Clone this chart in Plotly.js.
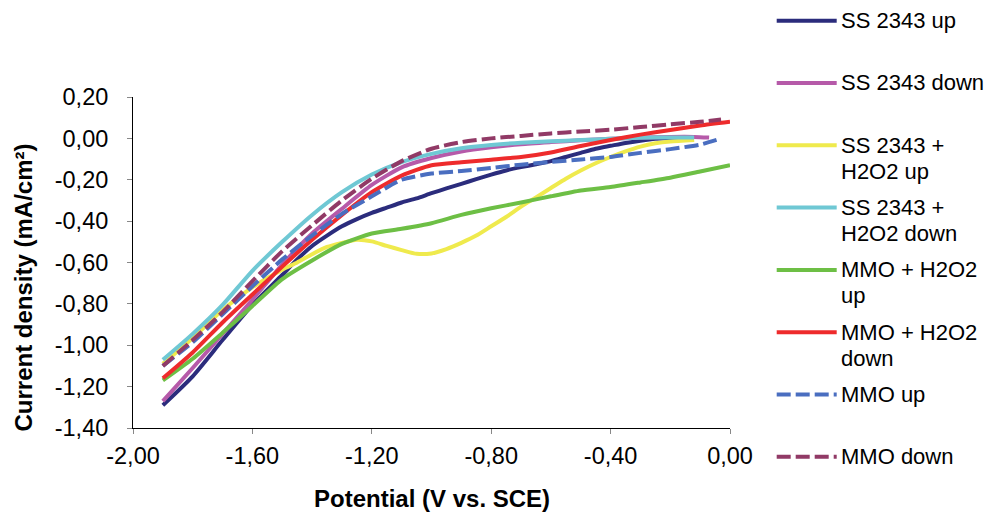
<!DOCTYPE html>
<html>
<head>
<meta charset="utf-8">
<script src="https://cdn.plot.ly/plotly-3.0.1.min.js"></script>
<style>html,body{margin:0;padding:0;background:#fff;}#chart{width:989px;height:512px;}</style>
</head>
<body>
<div id="chart"></div>
<script>
// ---- data ----
const seriesNames = ["SS 2343 up", "SS 2343 down", "SS 2343 +<br>H2O2 up", "SS 2343 +<br>H2O2 down",
                     "MMO + H2O2<br>up", "MMO + H2O2<br>down", "MMO up", "MMO down"];

const ssUpX = [-1.90,-1.80,-1.70,-1.60,-1.50,-1.45,-1.40,-1.35,-1.30,-1.25,-1.20,-1.15,-1.10,-1.05,-1.00,-0.95,-0.90,-0.85,-0.80,-0.75,-0.70,-0.65,-0.60,-0.55,-0.50,-0.45,-0.40,-0.35,-0.30,-0.25,-0.20,-0.14];
const ssUpY = [-1.29,-1.15,-0.975,-0.805,-0.66,-0.585,-0.52,-0.47,-0.425,-0.39,-0.36,-0.335,-0.31,-0.29,-0.265,-0.242,-0.22,-0.197,-0.175,-0.155,-0.139,-0.125,-0.11,-0.09,-0.07,-0.05,-0.036,-0.022,-0.011,-0.002,0.002,0.004];

const ssDownX = [-1.90,-1.80,-1.70,-1.60,-1.50,-1.40,-1.30,-1.20,-1.10,-1.00,-0.90,-0.80,-0.70,-0.60,-0.50,-0.40,-0.30,-0.20,-0.12,-0.07];
const ssDownY = [-1.27,-1.11,-0.945,-0.78,-0.61,-0.46,-0.34,-0.225,-0.14,-0.095,-0.063,-0.043,-0.028,-0.018,-0.009,-0.002,0.004,0.007,0.007,0.004];

const ssH2o2UpX = [-1.90,-1.80,-1.70,-1.60,-1.50,-1.45,-1.40,-1.35,-1.30,-1.25,-1.20,-1.15,-1.10,-1.05,-1.00,-0.95,-0.90,-0.85,-0.80,-0.75,-0.70,-0.65,-0.60,-0.55,-0.50,-0.45,-0.40,-0.35,-0.30,-0.25,-0.20,-0.12];
const ssH2o2UpY = [-1.09,-0.965,-0.83,-0.72,-0.635,-0.60,-0.56,-0.525,-0.505,-0.49,-0.498,-0.52,-0.54,-0.558,-0.556,-0.535,-0.505,-0.47,-0.425,-0.38,-0.33,-0.285,-0.24,-0.195,-0.155,-0.12,-0.09,-0.063,-0.04,-0.024,-0.015,-0.008];

const ssH2o2DownX = [-1.90,-1.80,-1.70,-1.60,-1.50,-1.40,-1.30,-1.20,-1.10,-1.00,-0.90,-0.80,-0.70,-0.60,-0.50,-0.40,-0.30,-0.20,-0.12];
const ssH2o2DownY = [-1.07,-0.945,-0.805,-0.64,-0.50,-0.37,-0.26,-0.175,-0.115,-0.075,-0.048,-0.032,-0.021,-0.014,-0.008,-0.002,0.003,0.004,0.004];

const mmoH2o2UpX = [-1.90,-1.80,-1.70,-1.60,-1.50,-1.40,-1.30,-1.20,-1.10,-1.00,-0.90,-0.80,-0.70,-0.60,-0.50,-0.40,-0.30,-0.20,-0.10,0.00];
const mmoH2o2UpY = [-1.17,-1.065,-0.94,-0.81,-0.68,-0.59,-0.51,-0.46,-0.437,-0.41,-0.37,-0.338,-0.31,-0.28,-0.252,-0.235,-0.213,-0.19,-0.16,-0.13];

const mmoH2o2DownX = [-1.90,-1.80,-1.70,-1.60,-1.50,-1.40,-1.30,-1.20,-1.10,-1.00,-0.90,-0.80,-0.70,-0.60,-0.50,-0.40,-0.30,-0.20,-0.10,0.00];
const mmoH2o2DownY = [-1.16,-1.035,-0.89,-0.755,-0.62,-0.49,-0.37,-0.26,-0.18,-0.13,-0.115,-0.103,-0.09,-0.068,-0.037,-0.008,0.018,0.04,0.062,0.08];

const mmoUpX = [-1.90,-1.80,-1.70,-1.60,-1.50,-1.40,-1.30,-1.20,-1.10,-1.00,-0.90,-0.80,-0.70,-0.60,-0.50,-0.40,-0.30,-0.20,-0.10,-0.04];
const mmoUpY = [-1.10,-0.985,-0.85,-0.715,-0.585,-0.47,-0.365,-0.28,-0.20,-0.17,-0.158,-0.143,-0.127,-0.114,-0.102,-0.09,-0.07,-0.052,-0.03,-0.005];

const mmoDownX = [-1.90,-1.80,-1.70,-1.60,-1.50,-1.40,-1.30,-1.20,-1.10,-1.00,-0.90,-0.80,-0.70,-0.60,-0.50,-0.40,-0.30,-0.20,-0.10,-0.03];
const mmoDownY = [-1.10,-0.975,-0.84,-0.69,-0.545,-0.42,-0.30,-0.195,-0.11,-0.05,-0.018,0.0,0.012,0.024,0.033,0.042,0.055,0.068,0.080,0.091];

const xTickVals = [-2.0,-1.6,-1.2,-0.8,-0.4,0.0];
const xTickText = ["-2,00","-1,60","-1,20","-0,80","-0,40","0,00"];
const yTickVals = [0.2,0.0,-0.2,-0.4,-0.6,-0.8,-1.0,-1.2,-1.4];
const yTickText = ["0,20","0,00","-0,20","-0,40","-0,60","-0,80","-1,00","-1,20","-1,40"];

const xTitle = "Potential (V vs. SCE)";
const yTitle = "Current density (mA/cm²)";

// ---- styles ----
const colors = ["#2B2C7C","#B65AA9","#EFEA4D","#6FC8D4","#6DBF45","#EE2B2C","#4A6EC0","#913A66"];
const dashes = ["solid","solid","solid","solid","solid","solid","14px,5px","14px,5px"];
const xs = [ssUpX, ssDownX, ssH2o2UpX, ssH2o2DownX, mmoH2o2UpX, mmoH2o2DownX, mmoUpX, mmoDownX];
const ys = [ssUpY, ssDownY, ssH2o2UpY, ssH2o2DownY, mmoH2o2UpY, mmoH2o2DownY, mmoUpY, mmoDownY];

const W = 989, H = 512;
const M = {l: 133, r: 259, t: 97, b: 84};
const PW = W - M.l - M.r, PH = H - M.t - M.b;
const px2x = p => (p - M.l) / PW;
const px2y = p => (H - M.b - p) / PH;

const traces = seriesNames.map((n, i) => ({
  type: "scatter", mode: "lines", x: xs[i], y: ys[i],
  name: n.replace("<br>", " "), showlegend: false,
  line: {color: colors[i], width: 4, dash: dashes[i], shape: "spline", smoothing: 0.6}
}));

const font = "Liberation Sans, Arial, sans-serif";

// custom legend (right side)
const shapes = [];
const annotations = [];
seriesNames.forEach((n, i) => {
  const yc = 20.7 + 62.3 * i;
  shapes.push({type: "line", xref: "paper", yref: "paper",
    x0: px2x(776.7), x1: px2x(836.7), y0: px2y(yc), y1: px2y(yc),
    line: {color: colors[i], width: 4, dash: dashes[i]}});
  n.split("<br>").forEach((ln, k) => {
    annotations.push({xref: "paper", yref: "paper", x: px2x(840.5), y: px2y(yc + 26 * k),
      xanchor: "left", yanchor: "middle", showarrow: false, borderpad: 0, align: "left",
      text: ln, font: {family: font, size: 22, color: "#000"}});
  });
});
// axis titles
annotations.push({xref: "paper", yref: "paper", x: 0.5, y: px2y(499), xanchor: "center", yanchor: "middle",
  showarrow: false, text: "<b>" + xTitle + "</b>", font: {family: font, size: 24, color: "#000"}});
annotations.push({xref: "paper", yref: "paper", x: px2x(23), y: px2y(287.5), xanchor: "center", yanchor: "middle",
  textangle: -90, showarrow: false, text: "<b>" + yTitle + "</b>", font: {family: font, size: 24, color: "#000"}});

const layout = {
  width: W, height: H,
  margin: {l: M.l, r: M.r, t: M.t, b: M.b, pad: 0},
  paper_bgcolor: "#fff", plot_bgcolor: "#fff",
  font: {family: font, size: 23, color: "#000"},
  showlegend: false,
  xaxis: {range: [-2, 0], tickvals: xTickVals, ticktext: xTickText,
          showline: true, linecolor: "#000", linewidth: 1,
          ticks: "outside", ticklen: 5, tickcolor: "#888", tickwidth: 1,
          showgrid: false, zeroline: false, ticklabelstandoff: 2,
          tickfont: {family: font, size: 23.5, color: "#000"}},
  yaxis: {range: [-1.4, 0.2], tickvals: yTickVals, ticktext: yTickText,
          showline: true, linecolor: "#000", linewidth: 1,
          ticks: "outside", ticklen: 5, tickcolor: "#888", tickwidth: 1,
          showgrid: false, zeroline: false, ticklabelstandoff: 14,
          tickfont: {family: font, size: 23.5, color: "#000"}},
  shapes: shapes,
  annotations: annotations
};

Plotly.newPlot("chart", traces, layout, {staticPlot: true, displayModeBar: false});
</script>
</body>
</html>
